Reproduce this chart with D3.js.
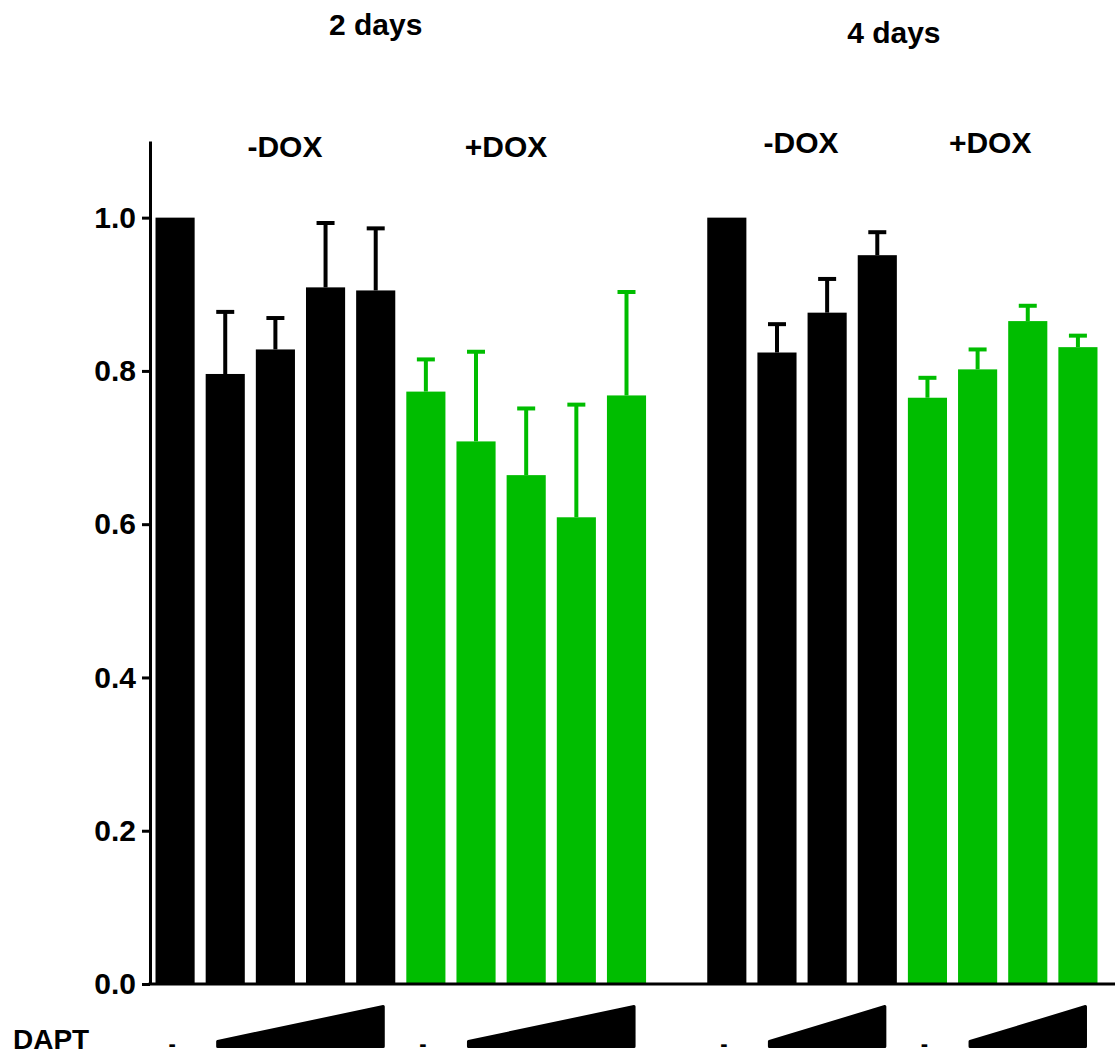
<html>
  <head>
    <title>DAPT / DOX bars</title>
    <script src="https://d3js.org/d3.v7.min.js"></script>
    <style>
      body {
        margin: 0;
        background: #fff;
      }
      text {
        font-family: "Liberation Sans", Arial, sans-serif;
        font-weight: bold;
        fill: #000;
      }
      .axis text {
        font-size: 30px;
      }
      .axis path,
      .axis line {
        stroke: #000;
        stroke-width: 3px;
      }
    </style>
  </head>
  <body>
    <svg id="chart" width="1117" height="1057"></svg>

    <script>
      // bar values (upper error only)
      const days2Minus = [1.0, 0.796, 0.828, 0.909, 0.905];
      const days2MinusErr = [0, 0.081, 0.041, 0.084, 0.081];
      const days2Plus = [0.773, 0.708, 0.664, 0.609, 0.768];
      const days2PlusErr = [0.042, 0.117, 0.087, 0.147, 0.135];
      const days4Minus = [1.0, 0.824, 0.876, 0.951];
      const days4MinusErr = [0, 0.037, 0.044, 0.03];
      const days4Plus = [0.765, 0.802, 0.865, 0.831];
      const days4PlusErr = [0.026, 0.026, 0.02, 0.015];

      const yTicks = [0, 0.2, 0.4, 0.6, 0.8, 1.0];
      // labels, placed by slot position along the x scale
      const dayLabels = [
        { text: "2 days", pos: 4.0, y: 35 },
        { text: "4 days", pos: 14.33, y: 43 },
      ];
      const doxLabels = [
        { text: "-DOX", pos: 2.19, y: 157 },
        { text: "+DOX", pos: 6.6, y: 157 },
        { text: "-DOX", pos: 12.48, y: 153 },
        { text: "+DOX", pos: 16.25, y: 153 },
      ];
      // DAPT row: "-" under untreated bar, wedge spanning the dose bars
      const daptDash = [0, 5, 11, 15];
      const daptWedge = [
        [1, 4],
        [6, 9],
        [12, 14],
        [16, 18],
      ];

      const black = "#000000";
      const green = "#00bd00";

      // build one flat list of bars with a slot each (slot 10 is the gap)
      const bars = [];
      let slot = 0;
      function addGroup(vals, errs, color) {
        vals.forEach((v, i) => {
          bars.push({ slot: slot, value: v, err: errs[i], color: color });
          slot++;
        });
      }
      addGroup(days2Minus, days2MinusErr, black);
      addGroup(days2Plus, days2PlusErr, green);
      slot++;
      addGroup(days4Minus, days4MinusErr, black);
      addGroup(days4Plus, days4PlusErr, green);

      const svg = d3.select("#chart");

      const x = d3
        .scaleBand()
        .domain(d3.range(slot))
        .range([150, 1103])
        .paddingInner(0.22)
        .paddingOuter(0.11);
      const bw = x.bandwidth();
      const center = (p) => x(0) + bw / 2 + p * x.step();

      const y = d3.scaleLinear().domain([0, 1.1]).range([984, 141]);

      // y axis
      svg
        .append("g")
        .attr("class", "axis")
        .attr("transform", "translate(150,0)")
        .call(
          d3
            .axisLeft(y)
            .tickValues(yTicks)
            .tickFormat(d3.format(".1f"))
            .tickSize(8)
            .tickSizeOuter(0)
            .tickPadding(6)
        );

      // bars
      svg
        .append("g")
        .selectAll("rect")
        .data(bars)
        .join("rect")
        .attr("x", (d) => x(d.slot))
        .attr("width", bw)
        .attr("y", (d) => y(d.value))
        .attr("height", (d) => y(0) - y(d.value))
        .attr("fill", (d) => d.color);

      // upper error bars
      const errBars = bars.filter((d) => d.err > 0);
      const eg = svg.append("g").attr("stroke-width", 4);
      eg.selectAll("line.stem")
        .data(errBars)
        .join("line")
        .attr("class", "stem")
        .attr("x1", (d) => x(d.slot) + bw / 2)
        .attr("x2", (d) => x(d.slot) + bw / 2)
        .attr("y1", (d) => y(d.value))
        .attr("y2", (d) => y(d.value + d.err))
        .attr("stroke", (d) => d.color);
      eg.selectAll("line.cap")
        .data(errBars)
        .join("line")
        .attr("class", "cap")
        .attr("x1", (d) => x(d.slot) + bw / 2 - 9)
        .attr("x2", (d) => x(d.slot) + bw / 2 + 9)
        .attr("y1", (d) => y(d.value + d.err))
        .attr("y2", (d) => y(d.value + d.err))
        .attr("stroke", (d) => d.color);

      // x axis baseline
      svg
        .append("line")
        .attr("x1", 148.5)
        .attr("x2", 1115)
        .attr("y1", y(0))
        .attr("y2", y(0))
        .attr("stroke", "#000")
        .attr("stroke-width", 3);

      // titles
      svg
        .selectAll("text.day")
        .data(dayLabels)
        .join("text")
        .attr("class", "day")
        .attr("x", (d) => center(d.pos))
        .attr("y", (d) => d.y)
        .attr("text-anchor", "middle")
        .style("font-size", "30px")
        .text((d) => d.text);

      svg
        .selectAll("text.dox")
        .data(doxLabels)
        .join("text")
        .attr("class", "dox")
        .attr("x", (d) => center(d.pos))
        .attr("y", (d) => d.y)
        .attr("text-anchor", "middle")
        .style("font-size", "30px")
        .text((d) => d.text);

      // DAPT row
      svg
        .append("text")
        .attr("x", 13)
        .attr("y", 1049)
        .style("font-size", "28px")
        .text("DAPT");

      svg
        .selectAll("text.dash")
        .data(daptDash)
        .join("text")
        .attr("class", "dash")
        .attr("x", (d) => center(d) - 3)
        .attr("y", 1051)
        .attr("text-anchor", "middle")
        .style("font-size", "22px")
        .text("-");

      svg
        .selectAll("path.wedge")
        .data(daptWedge)
        .join("path")
        .attr("class", "wedge")
        .attr("d", (d) => {
          const x0 = x(d[0]) + 12;
          const x1 = x(d[1]) + bw - 12;
          return `M${x0},1046.5 L${x1},1046.5 L${x1},1006.5 L${x0},1041.5 Z`;
        })
        .attr("fill", "#000")
        .attr("stroke", "#000")
        .attr("stroke-width", 3)
        .attr("stroke-linejoin", "round");
    </script>
  </body>
</html>
